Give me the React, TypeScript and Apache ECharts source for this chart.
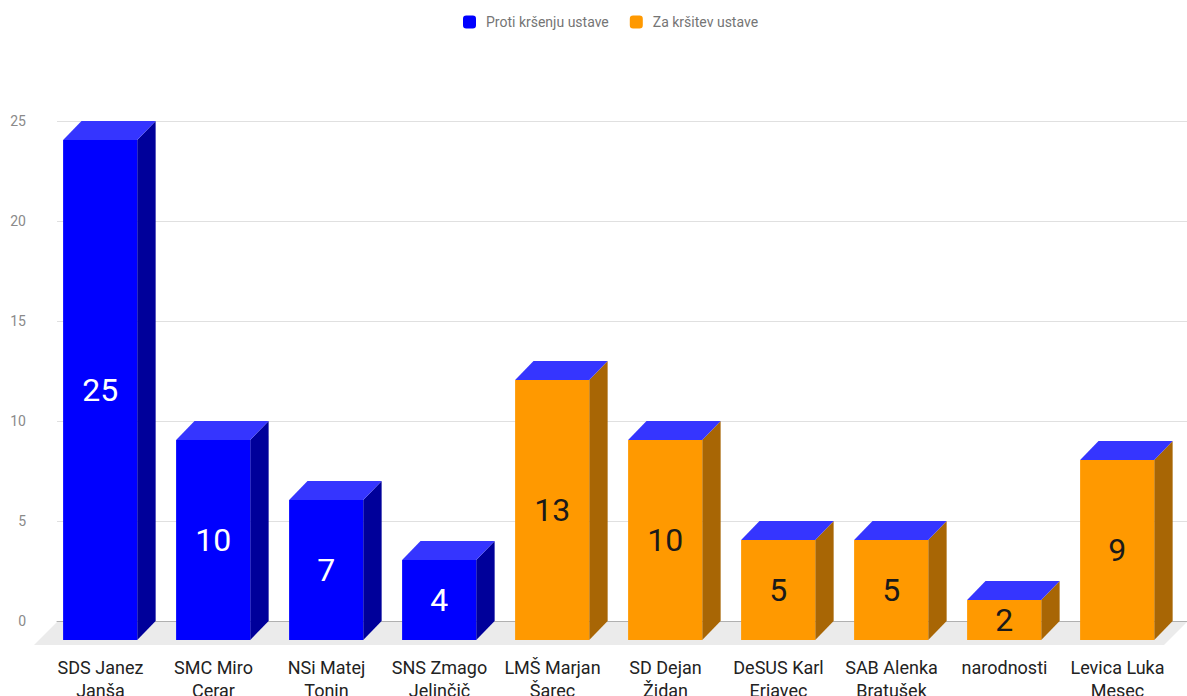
import React, { useEffect, useRef } from "react";
import * as echarts from "echarts";

const categories = [
  "SDS Janez Janša",
  "SMC Miro Cerar",
  "NSi Matej Tonin",
  "SNS Zmago Jelinčič",
  "LMŠ Marjan Šarec",
  "SD Dejan Židan",
  "DeSUS Karl Erjavec",
  "SAB Alenka Bratušek",
  "narodnosti",
  "Levica Luka Mesec",
];
const seriesNames = ["Proti kršenju ustave", "Za kršitev ustave"];
const protiValues = [25, 10, 7, 4, null, null, null, null, null, null];
const zaValues = [null, null, null, null, 13, 10, 5, 5, 2, 9];
const yMin = 0;
const yMax = 25;
const yInterval = 5;

const FONT = "Roboto, 'Noto Sans', sans-serif";

const palettes = [
  { front: "#0000ff", side: "#00009a", top: "#3535ff", text: "#ffffff", legend: "#0000ff" },
  { front: "#ff9900", side: "#a86605", top: "#3535ff", text: "#1a1a1a", legend: "#ff9900" },
];

function toData(values: (number | null)[]) {
  const out: number[][] = [];
  values.forEach((v, i) => {
    if (v !== null && v !== undefined) out.push([i, v]);
  });
  return out;
}

function makeRender(pal: typeof palettes[number]) {
  return (params: any, api: any) => {
    const i = api.value(0);
    const v = api.value(1);
    const band = api.size([1, 0])[0];
    const top = api.coord([i, v]);
    const base = api.coord([i, 0]);
    const W = band * 0.656;
    const shift = -band * 0.118;
    const DX = band * 0.163;
    const DY = 19;
    const cx = top[0] + shift;
    const fl = cx - W / 2;
    const fr = cx + W / 2;
    const ft = top[1] + DY;
    const fb = base[1] + DY;
    return {
      type: "group",
      children: [
        {
          type: "polygon",
          shape: { points: [[fr, ft], [fr + DX, ft - DY], [fr + DX, fb - DY], [fr, fb]] },
          style: { fill: pal.side },
        },
        {
          type: "polygon",
          shape: { points: [[fl, ft], [fl + DX, ft - DY], [fr + DX, ft - DY], [fr, ft]] },
          style: { fill: pal.top },
        },
        {
          type: "rect",
          shape: { x: fl, y: ft, width: W, height: fb - ft },
          style: { fill: pal.front },
        },
        {
          type: "text",
          style: {
            x: cx,
            y: (ft + fb) / 2,
            text: String(v),
            align: "center",
            verticalAlign: "middle",
            fontSize: 32,
            fontFamily: FONT,
            fill: pal.text,
          },
        },
      ],
    };
  };
}

function renderFloor(params: any, api: any) {
  const cs = params.coordSys;
  const y0 = cs.y + cs.height + 1;
  const d = 23;
  return {
    type: "polygon",
    shape: {
      points: [
        [cs.x, y0],
        [cs.x + cs.width, y0],
        [cs.x + cs.width - d, y0 + d],
        [cs.x - d, y0 + d],
      ],
    },
    style: { fill: "#ebebeb" },
  };
}

export default function App() {
  const ref = useRef<HTMLDivElement>(null);
  useEffect(() => {
    if (!ref.current) return;
    const chart = echarts.init(ref.current, undefined, { renderer: "svg", width: 1187, height: 696 });
    chart.setOption({
      animation: false,
      backgroundColor: "#ffffff",
      legend: {
        data: seriesNames.map((n, k) => ({ name: n, itemStyle: { color: palettes[k].legend } })),
        left: 458,
        top: 10,
        icon: "roundRect",
        itemWidth: 13,
        itemHeight: 13,
        itemGap: 21,
        textStyle: { fontSize: 14, color: "#757575", fontFamily: FONT, padding: [0, 0, 0, 5] },
      },
      grid: {
        left: 57,
        width: 1130,
        top: 121,
        height: 500,
        containLabel: false,
        outerBoundsMode: "none",
      },
      xAxis: {
        type: "category",
        data: categories,
        axisTick: { show: false },
        axisLine: { show: true, lineStyle: { color: "#b0b0b0", width: 1 } },
        axisLabel: {
          interval: 0,
          margin: 35,
          fontSize: 18,
          lineHeight: 23,
          color: "#222222",
          fontFamily: FONT,
          padding: [0, 26, 0, 0],
          formatter: (s: string) => {
            const w = s.split(" ");
            if (w.length <= 2) return s;
            return w.slice(0, 2).join(" ") + "\n" + w.slice(2).join(" ");
          },
        },
      },
      yAxis: {
        type: "value",
        min: yMin,
        max: yMax,
        interval: yInterval,
        axisLine: { show: false },
        axisTick: { show: false },
        axisLabel: { fontSize: 14, color: "#8a8a8a", margin: 31, fontFamily: FONT },
        splitLine: { lineStyle: { color: "#e0e0e0", width: 1 } },
      },
      series: [
        {
          name: "floor",
          type: "custom",
          data: [[0]],
          renderItem: renderFloor,
          silent: true,
          z: 1,
        },
        {
          name: seriesNames[0],
          type: "custom",
          data: toData(protiValues),
          renderItem: makeRender(palettes[0]),
          itemStyle: { color: palettes[0].legend },
          encode: { x: 0, y: 1 },
          z: 3,
        },
        {
          name: seriesNames[1],
          type: "custom",
          data: toData(zaValues),
          renderItem: makeRender(palettes[1]),
          itemStyle: { color: palettes[1].legend },
          encode: { x: 0, y: 1 },
          z: 3,
        },
      ],
    });
    return () => chart.dispose();
  }, []);
  return (
    <div
      ref={ref}
      style={{ position: "fixed", left: 0, top: 0, width: 1187, height: 696, background: "#fff" }}
    />
  );
}
